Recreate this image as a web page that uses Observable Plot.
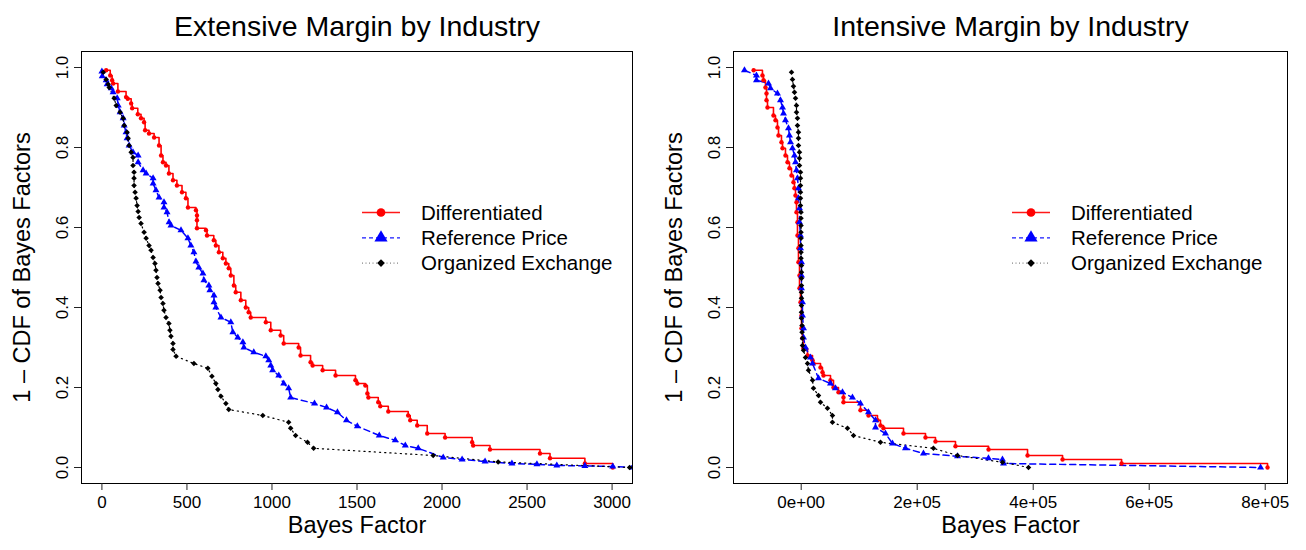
<!DOCTYPE html>
<html><head><meta charset="utf-8">
<script src="https://cdn.jsdelivr.net/npm/d3@7"></script>
<script src="https://cdn.jsdelivr.net/npm/@observablehq/plot@0.6"></script>
<style>
body{margin:0;background:#fff;}
#wrap{width:1306px;height:550px;display:flex;}
.panel{position:relative;width:653px;height:550px;}
</style></head><body><div id="wrap"></div>
<script>
const FONT = '"Liberation Sans", Arial, Helvetica, sans-serif';
const seriesNames = ["Differentiated", "Reference Price", "Organized Exchange"];
const titles = ["Extensive Margin by Industry", "Intensive Margin by Industry"];
const xLabel = "Bayes Factor";
const yLabel = "1 \u2013 CDF of Bayes Factors";
const yTicks = [0, 0.2, 0.4, 0.6, 0.8, 1.0];
const yTickLabels = ["0.0", "0.2", "0.4", "0.6", "0.8", "1.0"];
const extTicks = [0, 500, 1000, 1500, 2000, 2500, 3000];
const extTickLabels = ["0", "500", "1000", "1500", "2000", "2500", "3000"];
const intTicks = [0, 200000, 400000, 600000, 800000];
const intTickLabels = ["0e+00", "2e+05", "4e+05", "6e+05", "8e+05"];

// Extensive margin
const extDiffX = [25,49,60,66,94,142,152,172,178,211,230,248,254,277,307,336,348,359,377,394,418,441,471,494,506,553,559,559,559,612,618,658,670,688,711,729,746,758,776,787,817,846,863,875,964,993,1051,1069,1157,1168,1227,1239,1298,1374,1491,1502,1549,1561,1567,1625,1637,1684,1801,1813,1854,1913,2018,2177,2183,2282,2576,2635,2840,3004];
const extDiffY = [0.993,0.98,0.968,0.96,0.94,0.926,0.922,0.91,0.898,0.883,0.873,0.863,0.843,0.835,0.825,0.805,0.78,0.763,0.755,0.735,0.718,0.705,0.688,0.673,0.65,0.643,0.63,0.618,0.598,0.593,0.58,0.568,0.555,0.538,0.523,0.51,0.498,0.48,0.455,0.438,0.418,0.4,0.388,0.375,0.363,0.343,0.33,0.31,0.30,0.28,0.263,0.255,0.243,0.23,0.218,0.21,0.205,0.185,0.175,0.163,0.153,0.14,0.13,0.118,0.105,0.085,0.075,0.063,0.055,0.045,0.035,0.023,0.01,0.0];
const extRefX = [0,2,25,31,55,66,90,96,107,125,131,142,148,160,183,213,213,242,260,301,301,318,336,365,365,383,395,406,465,506,523,541,553,570,594,600,629,635,659,659,670,700,758,770,799,829,835,893,964,981,993,1004,1040,1069,1098,1110,1250,1321,1385,1438,1502,1631,1725,1784,1860,2007,2118,2253,2411,2558,2675,2840,3004,3120];
const extRefY = [0.99,0.978,0.968,0.958,0.948,0.938,0.923,0.905,0.888,0.873,0.855,0.838,0.823,0.805,0.788,0.78,0.763,0.743,0.735,0.723,0.71,0.693,0.675,0.663,0.65,0.638,0.613,0.605,0.593,0.573,0.555,0.538,0.515,0.5,0.485,0.468,0.455,0.443,0.43,0.413,0.4,0.375,0.363,0.338,0.325,0.313,0.3,0.288,0.278,0.268,0.255,0.243,0.23,0.21,0.198,0.175,0.16,0.15,0.138,0.118,0.103,0.08,0.068,0.055,0.048,0.025,0.02,0.015,0.01,0.008,0.005,0.004,0.0025,0.0];
const extOrgX = [8,25,37,43,72,84,107,125,131,148,154,160,172,183,183,189,189,189,195,201,207,213,219,230,248,260,277,289,301,312,318,324,330,342,348,359,365,377,394,400,406,418,418,436,541,623,647,670,682,700,729,746,946,1098,1110,1139,1209,1245,1948,2330,3103];
const extOrgY = [0.988,0.97,0.958,0.95,0.923,0.905,0.888,0.873,0.855,0.838,0.823,0.805,0.788,0.775,0.755,0.738,0.723,0.705,0.688,0.673,0.655,0.64,0.625,0.61,0.588,0.573,0.555,0.543,0.525,0.51,0.493,0.475,0.46,0.443,0.425,0.41,0.393,0.375,0.36,0.343,0.328,0.31,0.295,0.278,0.26,0.248,0.228,0.21,0.195,0.178,0.16,0.145,0.13,0.113,0.098,0.08,0.063,0.048,0.03,0.014,0.0];

// Intensive margin
const intDiffX = [-82000,-66800,-65000,-61600,-59800,-59800,-58100,-47800,-44300,-40900,-39100,-34000,-32200,-27100,-23600,-20200,-16700,-13300,-11600,-9800,-8100,-8100,-6400,-6400,-4700,-4700,-2900,-2900,-1200,500,500,2200,4000,10900,19500,21200,33300,36700,38400,50500,55700,64300,72900,72900,102200,116000,131500,136700,141900,176400,214300,231500,266000,323000,390200,450600,552400,804000];
const intDiffY = [0.993,0.98,0.968,0.95,0.935,0.918,0.9,0.88,0.868,0.85,0.83,0.813,0.798,0.78,0.763,0.748,0.73,0.713,0.698,0.68,0.663,0.638,0.613,0.58,0.548,0.513,0.48,0.448,0.413,0.38,0.348,0.323,0.298,0.28,0.268,0.26,0.25,0.238,0.23,0.218,0.2,0.188,0.175,0.163,0.143,0.13,0.118,0.105,0.098,0.085,0.075,0.065,0.053,0.045,0.03,0.02,0.01,0.0];
const intRefX = [-97800,-77100,-77100,-56400,-52900,-40900,-35700,-32200,-30500,-27100,-21900,-20200,-18400,-15000,-11600,-9800,-8100,-6400,-4700,-4700,-2900,-2900,-1200,-1200,500,500,500,2200,2200,4000,4000,7400,16000,19500,29800,50500,59100,71200,88400,102200,116000,128100,128100,145300,157400,179800,210800,269500,322900,347000,348800,792000];
const intRefY = [0.993,0.98,0.968,0.96,0.948,0.935,0.918,0.9,0.885,0.868,0.848,0.83,0.813,0.798,0.78,0.763,0.743,0.723,0.698,0.673,0.648,0.613,0.58,0.548,0.513,0.48,0.448,0.413,0.38,0.348,0.325,0.3,0.275,0.26,0.223,0.21,0.198,0.188,0.175,0.16,0.138,0.118,0.1,0.085,0.06,0.048,0.035,0.028,0.023,0.02,0.01,0.0];
const intOrgX = [-16700,-15000,-13300,-11600,-9800,-8100,-8100,-6400,-6400,-4700,-4700,-4700,-2900,-2900,-2900,-1200,-1200,-1200,-1200,-1200,-1200,-300,-300,-300,-300,-300,-300,-300,-300,500,500,500,500,500,500,500,500,500,1400,1400,2200,2200,4000,7400,10900,12600,19500,21200,29800,33300,45300,53900,53900,79800,90200,136700,228000,269500,347100,391900];
const intOrgY = [0.988,0.97,0.953,0.938,0.923,0.905,0.888,0.873,0.855,0.838,0.823,0.805,0.788,0.773,0.755,0.738,0.723,0.705,0.688,0.673,0.655,0.638,0.623,0.605,0.588,0.573,0.555,0.538,0.523,0.505,0.488,0.473,0.455,0.438,0.423,0.405,0.388,0.373,0.355,0.338,0.323,0.305,0.293,0.275,0.26,0.243,0.218,0.198,0.18,0.163,0.148,0.13,0.113,0.098,0.08,0.063,0.048,0.03,0.013,0.0];

const colors = ["#FF0000", "#0000FF", "#000000"];
const styles = [
  {strokeWidth: 1.6, strokeDasharray: null, curve: "step-after", symbol: "circle", r: 2.2},
  {strokeWidth: 1.5, strokeDasharray: "6,4", curve: "linear", symbol: "triangle", r: 2.6},
  {strokeWidth: 1.2, strokeDasharray: "1.2,4", curve: "linear", symbol: "diamond2", r: 2.5}
];

function toRows(xs, ys, s) { return xs.map((x, i) => ({x, y: ys[i], s})); }

function panel(title, seriesData, xDomain, xTicks, xTickLabels, ml, mr, legendLeft) {
  const marks = [
    Plot.frame({stroke: "black", strokeWidth: 1}),
    Plot.axisX({ticks: xTicks, tickFormat: d => xTickLabels[xTicks.indexOf(d)], tickSize: 7, tickPadding: 5, label: null, stroke: "#222", fontSize: 17}),
    Plot.axisY({ticks: yTicks, tickFormat: d => yTickLabels[yTicks.indexOf(d)], tickSize: 7, tickPadding: 7, tickRotate: -90, textAnchor: "middle", lineAnchor: "bottom", label: null, stroke: "#222", fontSize: 17}),
  ];
  seriesData.forEach((rows, k) => {
    const st = styles[k];
    marks.push(Plot.line(rows, {x: "x", y: "y", stroke: colors[k], strokeWidth: st.strokeWidth, strokeDasharray: st.strokeDasharray, curve: st.curve, clip: true}));
  });
  seriesData.forEach((rows, k) => {
    const st = styles[k];
    marks.push(Plot.dot(rows, {x: "x", y: "y", fill: colors[k], stroke: "none", symbol: st.symbol, r: st.r, clip: true}));
  });
  marks.push(Plot.text([title], {text: d => d, frameAnchor: "top", dy: -36, fontSize: 28.5}));
  marks.push(Plot.text([xLabel], {text: d => d, frameAnchor: "bottom", dy: 49, fontSize: 23.5}));
  marks.push(Plot.text([yLabel], {text: d => d, frameAnchor: "left", textAnchor: "middle", dx: -59, rotate: -90, fontSize: 23.5}));
  const svg = Plot.plot({
    width: 653, height: 550,
    marginLeft: ml, marginRight: mr, marginTop: 51, marginBottom: 67,
    style: {fontFamily: FONT, fontSize: "17px", color: "black", background: "white", overflow: "visible"},
    x: {domain: xDomain},
    y: {domain: [-0.04, 1.04]},
    marks
  });
  const div = document.createElement("div");
  div.className = "panel";
  div.appendChild(svg);
  // legend
  const lg = d3.create("svg").attr("width", 280).attr("height", 80)
    .style("position", "absolute").style("left", legendLeft + "px").style("top", "197px")
    .style("font-family", FONT);
  seriesNames.forEach((name, k) => {
    const cy = 15.5 + k * 25.3;
    const g = lg.append("g");
    g.append("line").attr("x1", 0).attr("x2", 38).attr("y1", cy).attr("y2", cy)
      .attr("stroke", colors[k]).attr("stroke-width", k === 2 ? 1 : 1.3)
      .attr("stroke-dasharray", k === 0 ? null : (k === 1 ? "4,3" : "1,2.5"))
      .attr("opacity", k === 2 ? 0.6 : 0.9);
    const sym = [d3.symbolCircle, d3.symbolTriangle, d3.symbolSquare][k];
    const size = [60, 75, 30][k];
    g.append("path").attr("d", d3.symbol(sym, size)())
      .attr("transform", `translate(19,${cy})` + (k === 2 ? " rotate(45)" : ""))
      .attr("fill", colors[k]);
    g.append("text").attr("x", 59).attr("y", cy).attr("dy", "0.35em")
      .attr("font-size", "20.5px").attr("fill", "black").text(name);
  });
  div.appendChild(lg.node());
  return div;
}

const wrap = document.getElementById("wrap");
wrap.appendChild(panel(titles[0],
  [toRows(extDiffX, extDiffY, seriesNames[0]), toRows(extRefX, extRefY, seriesNames[1]), toRows(extOrgX, extOrgY, seriesNames[2])],
  [-120, 3120], extTicks, extTickLabels, 81, 21, 362));
wrap.appendChild(panel(titles[1],
  [toRows(intDiffX, intDiffY, seriesNames[0]), toRows(intRefX, intRefY, seriesNames[1]), toRows(intOrgX, intOrgY, seriesNames[2])],
  [-116700, 838400], intTicks, intTickLabels, 80, 19, 359));
</script></body></html>
